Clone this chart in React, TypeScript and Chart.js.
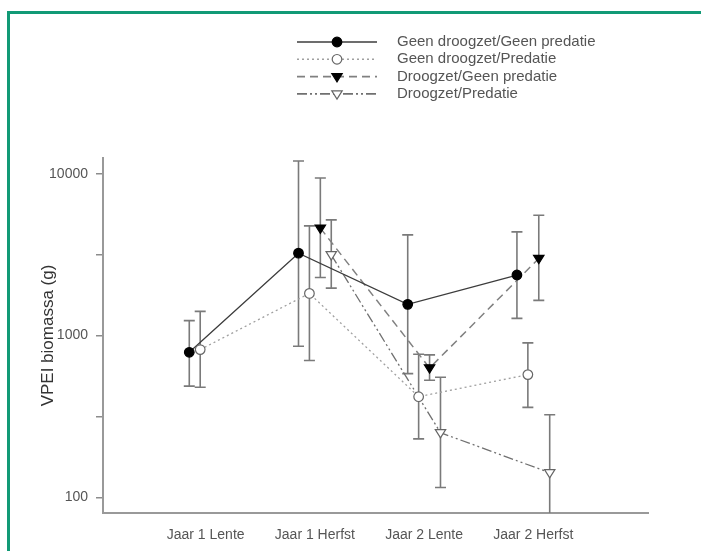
import React, { useEffect, useRef } from 'react';
import { Chart, registerables } from 'chart.js';

Chart.register(...registerables);

// ---- Data ----
const categories = ['Jaar 1 Lente', 'Jaar 1 Herfst', 'Jaar 2 Lente', 'Jaar 2 Herfst'];
const seriesNames = [
  'Geen droogzet/Geen predatie',
  'Geen droogzet/Predatie',
  'Droogzet/Geen predatie',
  'Droogzet/Predatie',
];
const geenGeenMean = [789, 3236, 1561, 2371];
const geenGeenLow = [487, 859, 582, 1279];
const geenGeenHigh = [1239, 12030, 4198, 4385];

const geenPredMean = [820, 1824, 419, 574];
const geenPredLow = [480, 702, 230, 360];
const geenPredHigh = [1413, 4775, 767, 902];

const droogGeenMean = [null, 4625, 631, 3000];
const droogGeenLow = [null, 2291, 530, 1652];
const droogGeenHigh = [null, 9447, 760, 5558];

const droogPredMean = [null, 3162, 251, 142];
const droogPredLow = [null, 1968, 115, 60];
const droogPredHigh = [null, 5200, 553, 324];

const yTickValues = [100, 316.23, 1000, 3162.28, 10000];
const yTickLabels = ['100', '', '1000', '', '10000'];
const yTitle = 'VPEI biomassa (g)';

const means = [geenGeenMean, geenPredMean, droogGeenMean, droogPredMean];
const lows = [geenGeenLow, geenPredLow, droogGeenLow, droogPredLow];
const highs = [geenGeenHigh, geenPredHigh, droogGeenHigh, droogPredHigh];

// ---- Styles ----
const xOffsets = [-0.15, -0.05, 0.05, 0.15];
const styles = [
  { line: '#3c3c3c', dash: [] as number[], width: 1.3, shape: 'circle', fill: '#000000', stroke: '#000000', radius: 4.8 },
  { line: '#a0a0a0', dash: [2, 3], width: 1.3, shape: 'circle', fill: '#ffffff', stroke: '#666666', radius: 4.8 },
  { line: '#808080', dash: [8, 5], width: 1.5, shape: 'triangle', fill: '#000000', stroke: '#000000', radius: 5.2 },
  { line: '#707070', dash: [10, 3, 2, 3, 2, 3], width: 1.3, shape: 'triangle', fill: '#ffffff', stroke: '#666666', radius: 5.2 },
];
const FONT = "'Liberation Sans', Arial, sans-serif";

function drawMarker(ctx: CanvasRenderingContext2D, i: number, x: number, y: number) {
  const s = styles[i];
  ctx.save();
  ctx.setLineDash([]);
  ctx.lineWidth = 1.2;
  ctx.fillStyle = s.fill;
  ctx.strokeStyle = s.stroke;
  ctx.beginPath();
  if (s.shape === 'circle') {
    ctx.arc(x, y, s.radius, 0, Math.PI * 2);
  } else {
    const r = s.radius;
    ctx.moveTo(x - r, y - r * 0.6);
    ctx.lineTo(x + r, y - r * 0.6);
    ctx.lineTo(x, y + r);
    ctx.closePath();
  }
  ctx.fill();
  ctx.stroke();
  ctx.restore();
}

const errorBarPlugin = {
  id: 'errorBars',
  beforeDatasetsDraw(chart: any) {
    const { ctx, chartArea, scales } = chart;
    ctx.save();
    ctx.beginPath();
    ctx.rect(chartArea.left, chartArea.top - 10, chartArea.right - chartArea.left, chartArea.bottom - chartArea.top + 10);
    ctx.clip();
    ctx.strokeStyle = '#7a7a7a';
    ctx.lineWidth = 1.6;
    ctx.setLineDash([]);
    for (let s = 0; s < means.length; s++) {
      for (let c = 0; c < categories.length; c++) {
        const lo = lows[s][c];
        const hi = highs[s][c];
        if (lo == null || hi == null) continue;
        const x = scales.x.getPixelForValue(c + xOffsets[s]);
        const yl = scales.y.getPixelForValue(lo);
        const yh = scales.y.getPixelForValue(hi);
        ctx.beginPath();
        ctx.moveTo(x, yl);
        ctx.lineTo(x, yh);
        ctx.moveTo(x - 5.5, yh);
        ctx.lineTo(x + 5.5, yh);
        ctx.moveTo(x - 5.5, yl);
        ctx.lineTo(x + 5.5, yl);
        ctx.stroke();
      }
    }
    ctx.restore();
  },
};

const markerPlugin = {
  id: 'markers',
  afterDatasetsDraw(chart: any) {
    const { ctx, scales } = chart;
    for (let s = 0; s < means.length; s++) {
      for (let c = 0; c < categories.length; c++) {
        const v = means[s][c];
        if (v == null) continue;
        drawMarker(ctx, s, scales.x.getPixelForValue(c + xOffsets[s]), scales.y.getPixelForValue(v));
      }
    }
  },
};

const legendPlugin = {
  id: 'customLegend',
  afterDraw(chart: any) {
    const ctx = chart.ctx as CanvasRenderingContext2D;
    const x0 = 297, x1 = 377, mx = 337, tx = 397;
    for (let i = 0; i < seriesNames.length; i++) {
      const y = 42 + i * 17.3;
      const s = styles[i];
      ctx.save();
      ctx.strokeStyle = s.line;
      ctx.lineWidth = s.width + 0.3;
      ctx.setLineDash(s.dash);
      ctx.beginPath();
      ctx.moveTo(x0, y);
      ctx.lineTo(x1, y);
      ctx.stroke();
      ctx.restore();
      drawMarker(ctx, i, mx, y);
      ctx.save();
      ctx.fillStyle = '#555555';
      ctx.font = `15px ${FONT}`;
      ctx.textBaseline = 'middle';
      ctx.textAlign = 'left';
      ctx.fillText(seriesNames[i], tx, y);
      ctx.restore();
    }
  },
};

export default function App() {
  const ref = useRef<HTMLCanvasElement | null>(null);
  useEffect(() => {
    if (!ref.current) return;
    const datasets = means.map((m, s) => ({
      label: seriesNames[s],
      data: m
        .map((v, c) => (v == null ? null : { x: c + xOffsets[s], y: v }))
        .filter((p) => p !== null) as { x: number; y: number }[],
      borderColor: styles[s].line,
      borderWidth: styles[s].width,
      borderDash: styles[s].dash,
      pointRadius: 0,
      fill: false,
      tension: 0,
    }));
    const chart = new Chart(ref.current, {
      type: 'line',
      data: { datasets },
      plugins: [errorBarPlugin, markerPlugin, legendPlugin],
      options: {
        responsive: false,
        animation: false,
        layout: { padding: { top: 158, right: 53, left: 0, bottom: 0 } },
        plugins: { legend: { display: false }, tooltip: { enabled: false } },
        scales: {
          x: {
            type: 'linear',
            min: -0.94,
            max: 4.05,
            grid: { display: false },
            border: { display: true, color: '#999999', width: 2 },
            afterBuildTicks: (scale: any) => {
              scale.ticks = categories.map((_, i) => ({ value: i }));
            },
            afterFit: (scale: any) => {
              scale.height = 38;
            },
            ticks: {
              padding: 6,
              maxRotation: 0,
              autoSkip: false,
              color: '#555555',
              font: { family: FONT, size: 14 },
              callback: (v: any) => categories[Math.round(Number(v))] ?? '',
            },
          },
          y: {
            type: 'logarithmic',
            min: 80,
            max: 12550,
            grid: { display: true, drawOnChartArea: false, drawTicks: true, tickLength: 7, color: '#8c8c8c', lineWidth: 1.5 },
            border: { display: true, color: '#999999', width: 2 },
            afterBuildTicks: (scale: any) => {
              scale.ticks = yTickValues.map((v) => ({ value: v }));
            },
            afterFit: (scale: any) => {
              scale.width = 103;
            },
            ticks: {
              padding: 8,
              color: '#555555',
              font: { family: FONT, size: 14 },
              autoSkip: false,
              callback: (_v: any, idx: number) => yTickLabels[idx] ?? '',
            },
            title: {
              display: true,
              text: yTitle,
              color: '#333333',
              font: { family: FONT, size: 17 },
              padding: { top: 38, bottom: 0 },
            },
          },
        },
      },
    });
    return () => chart.destroy();
  }, []);

  return (
    <div style={{ position: 'fixed', left: 0, top: 0, width: 701, height: 551, background: '#ffffff' }}>
      <div
        style={{
          position: 'absolute',
          left: 7,
          top: 11,
          width: 701 - 7,
          height: 551 - 11,
          borderTop: '3px solid #119a76',
          borderLeft: '3px solid #119a76',
          boxSizing: 'border-box',
        }}
      />
      <canvas ref={ref} width={701} height={551} style={{ position: 'absolute', left: 0, top: 0, width: 701, height: 551 }} />
    </div>
  );
}
